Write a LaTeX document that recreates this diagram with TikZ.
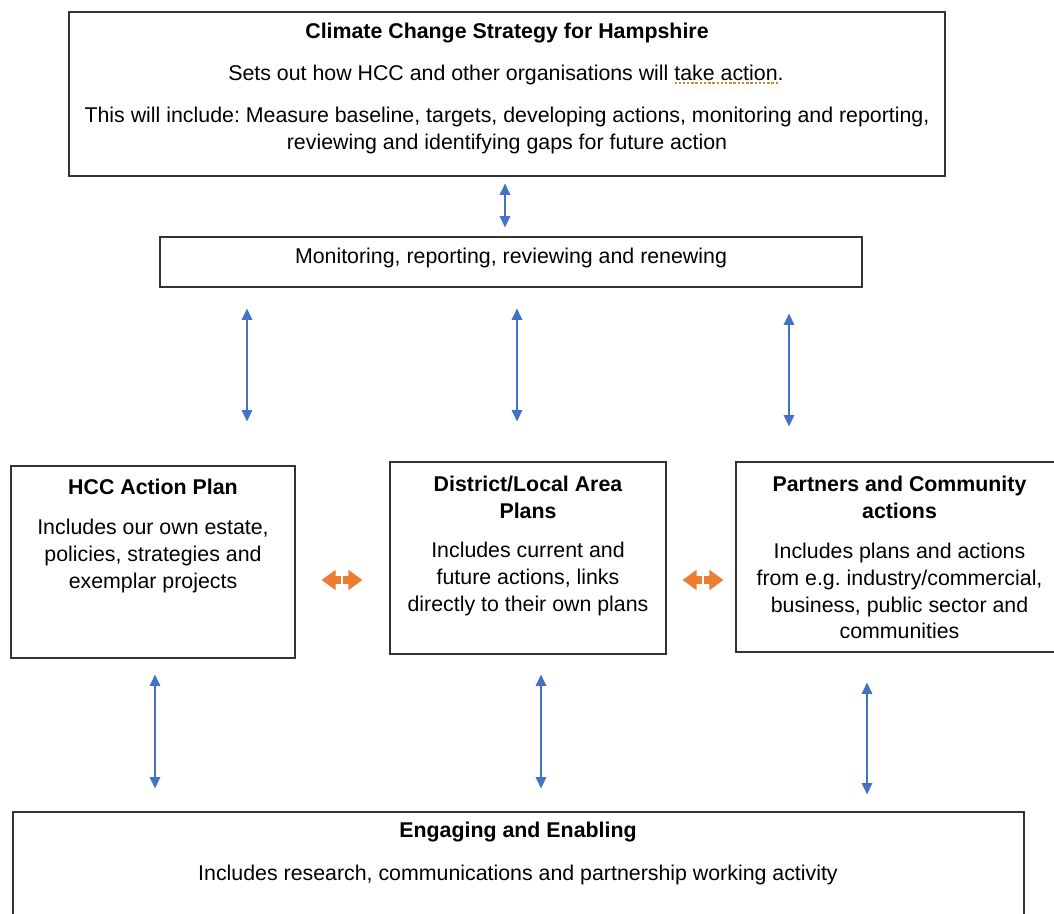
\documentclass[tikz,border=0pt]{standalone}
\usepackage{fontspec}
\setmainfont{Liberation Sans}
\usetikzlibrary{arrows.meta, positioning, fit}
\definecolor{linkblue}{HTML}{4472C4}
\definecolor{linkorange}{HTML}{ED7D31}
\definecolor{squiggle}{HTML}{C09030}

\begin{document}
\begin{tikzpicture}[x=0.02cm, y=-0.02cm,
    box/.style={draw=black!80, line width=0.7pt, inner sep=0pt},
    head/.style={font=\fontsize{12.15}{15.3}\selectfont\frenchspacing\bfseries, align=center, inner sep=0pt},
    txt/.style={font=\fontsize{12.15}{15.3}\selectfont\frenchspacing, align=center, inner sep=0pt},
    link/.style={draw=linkblue, line width=0.85pt, {Triangle[width=6pt,length=6.4pt]}-{Triangle[width=6pt,length=6.4pt]}},
    swap/.style={draw=linkorange, line width=5pt, -{Triangle[width=11pt,length=8pt]}},
    gram/.style={draw=squiggle, line width=0.9pt, dash pattern=on 1.4pt off 1pt}]
    \clip (0,0) rectangle (1054,913);

    % boxes
    \node[box, fit={(69,12) (945,176)}] (strategy) {};
    \node[box, fit={(160,237) (862,287)}] (monitor) {};
    \node[box, fit={(11,466) (295,658)}] (hcc) {};
    \node[box, fit={(390,462) (666,654)}] (district) {};
    \node[box, fit={(736,462) (1070,652)}] (partners) {};
    \node[box, fit={(13,812) (1024,940)}] (engage) {};

    % texts
    \node[head] (strategyhead) at (507,33) {Climate Change Strategy for Hampshire};
    \node[txt] (strategyaim) at (506,75) {Sets out how HCC and other organisations will take action.};
    \node[txt] (strategybody) at (507,130.5) {This will include: Measure baseline, targets, developing actions, monitoring and reporting,\\reviewing and identifying gaps for future action};
    \node[txt] (monitortext) at (511,258) {Monitoring, reporting, reviewing and renewing};
    \node[head] (hcchead) at (153,487) {HCC Action Plan};
    \node[txt] (hccbody) at (153,556) {Includes our own estate,\\policies, strategies and\\exemplar projects};
    \node[head] (districthead) at (528,497) {District/Local Area\\Plans};
    \node[txt] (districtbody) at (528,579) {Includes current and\\future actions, links\\directly to their own plans};
    \node[head] (partnershead) at (899.5,497) {Partners and Community\\actions};
    \node[txt] (partnersbody) at (899.5,591) {Includes plans and actions\\from e.g. industry/commercial,\\business, public sector and\\communities};
    \node[head] (engagehead) at (518,832) {Engaging and Enabling};
    \node[txt] (engagebody) at (518,875) {Includes research, communications and partnership working activity};

    % grammar mark under "take action"
    \draw[gram] ([xshift=-3.4pt, yshift=1.2pt]strategyaim.south east) -- ++(-58.5pt,0);

    % columns of the links
    \coordinate (a0) at (505,0);
    \coordinate (a1) at (247,0);
    \coordinate (a2) at (517,0);
    \coordinate (a3) at (789,0);
    \coordinate (b1) at (155,0);
    \coordinate (b2) at (541,0);
    \coordinate (b3) at (867,0);
    \coordinate (o1) at (342,580);
    \coordinate (o2) at (703,580);

    % blue links
    \draw[link, shorten <=0.14cm, shorten >=0.18cm] (strategy.south -| a0) -- (monitor.north -| a0);
    \draw[link, shorten <=0.42cm, shorten >=0.88cm] (monitor.south -| a1) -- (hcc.north -| a1);
    \draw[link, shorten <=0.42cm, shorten >=0.80cm] (monitor.south -| a2) -- (district.north -| a2);
    \draw[link, shorten <=0.52cm, shorten >=0.70cm] (monitor.south -| a3) -- (partners.north -| a3);
    \draw[link, shorten <=0.32cm, shorten >=0.46cm] (hcc.south -| b1) -- (engage.north -| b1);
    \draw[link, shorten <=0.40cm, shorten >=0.46cm] (district.south -| b2) -- (engage.north -| b2);
    \draw[link, shorten <=0.60cm, shorten >=0.34cm] (partners.south -| b3) -- (engage.north -| b3);

    % orange links
    \draw[swap] (o1) ++(-1,0) -- ++(-19.5,0);
    \draw[swap] (o1) ++(1,0) -- ++(19.5,0);
    \draw[swap] (o2) ++(-1,0) -- ++(-19.5,0);
    \draw[swap] (o2) ++(1,0) -- ++(19.5,0);
\end{tikzpicture}
\end{document}
